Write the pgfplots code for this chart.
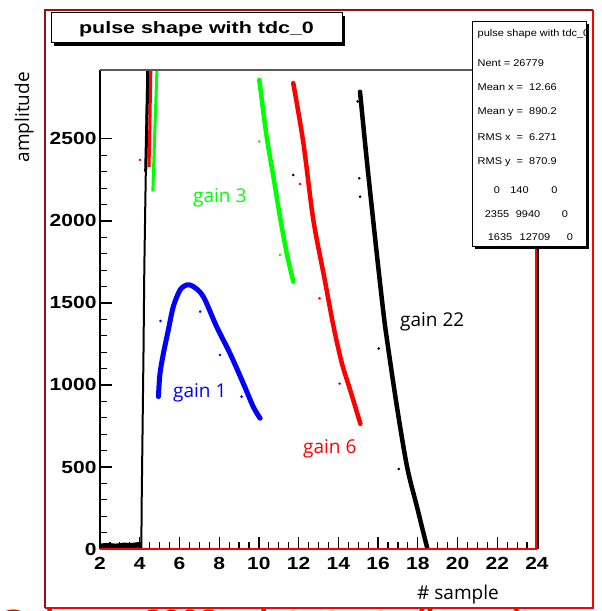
\documentclass[border=0pt]{standalone}
\usepackage{pgfplots}
\pgfplotsset{compat=1.18}
\usepackage{fontspec}
\setmainfont{Open Sans}
\newfontfamily\rootfont[FakeStretch=1.2]{Liberation Sans}
\newfontfamily\titlefont[FakeStretch=1.3]{Liberation Sans}
\newfontfamily\statfont[FakeStretch=1.12]{Liberation Sans}
\definecolor{padred}{RGB}{140,20,20}
\definecolor{rgreen}{RGB}{0,255,0}
\definecolor{rblue}{RGB}{0,0,255}
\definecolor{rred}{RGB}{255,0,0}
\begin{document}
\begin{tikzpicture}
\useasboundingbox (0,0) rectangle (602pt,611pt);
\clip (0,0) rectangle (602pt,611pt);
\fill[white] (0,0) rectangle (602pt,611pt);
\begin{axis}[
  at={(100pt,62pt)}, anchor=south west,
  scale only axis, width=437pt, height=479pt,
  xmin=2, xmax=24, ymin=0, ymax=2920,
  axis line style={draw=none},
  xtick={2,4,...,24}, ytick={0,500,...,2500},
  minor x tick num=3, minor y tick num=4,
  tick align=inside, xtick pos=left, ytick pos=left,
  major tick length=12pt, minor tick length=7pt,
  tick style={black, line width=1.2pt},
  ticklabel style={font=\rootfont\bfseries\fontsize{17.5}{20}\selectfont},
  xticklabel style={yshift=-5pt},
  /pgf/number format/assume math mode=true,
  /pgf/number format/1000 sep={},
  clip=true,
]
% gain 22 (black): baseline and rising edge
\addplot[black, line width=5.5pt] coordinates {(2,17)(2.4,20)(2.8,16)(3.2,22)(3.6,20)(3.9,25)(4.1,22)};
\addplot[black, line width=2pt] coordinates {(4.08,0)(4.1,300)(4.14,700)(4.19,1200)(4.23,1700)(4.28,2100)(4.32,2400)(4.38,2930)};
\addplot[black, line width=3pt] coordinates {(4.3,2300)(4.42,2930)};
% gain 6 (red) rising edge
\addplot[rred, line width=3pt] coordinates {(4.47,2330)(4.52,2650)(4.56,2930)};
% gain 3 (green) rising edge
\addplot[rgreen, line width=3pt] coordinates {(4.66,2180)(4.76,2550)(4.87,2930)};
% gain 1 (blue)
\addplot[rblue, line width=5pt, line cap=round, line join=round, smooth, tension=0.5] coordinates {(4.94,929)(5.02,1069)(5.19,1191)(5.44,1335)(5.69,1477)(6.03,1579)(6.37,1610)(6.70,1600)(7.2,1539)(7.87,1356)(8.55,1191)(9.22,1008)(9.72,866)(10.06,797)};
% gain 3 falling
\addplot[rgreen, line width=4.5pt, line cap=round, smooth, tension=0.5] coordinates {(10.02,2860)(10.39,2514)(10.73,2270)(11.06,2026)(11.4,1803)(11.73,1630)};
% gain 6 falling
\addplot[rred, line width=4.5pt, line cap=round, smooth, tension=0.5] coordinates {(11.73,2840)(12.24,2474)(12.74,2006)(13.3,1650)(13.76,1355)(14.18,1131)(14.6,967)(15.11,763)};
% gain 22 falling
\addplot[black, line width=4.5pt, line cap=round, smooth, tension=0.5] coordinates {(15.09,2787)(15.43,2372)(15.93,1805)(16.27,1439)(16.45,1274)(16.95,866)(17.46,500)(17.96,256)(18.46,12)(18.5,0)};
% stray points
\addplot[only marks, mark=*, mark size=1.1pt, black] coordinates {(11.73,2280)(15.05,2260)(15.09,2148)(16.03,1222)(17.04,488)(14.97,2728)};
\addplot[only marks, mark=*, mark size=1.1pt, rred] coordinates {(4.01,2372)(12.07,2225)(13.05,1528)(14.06,1008)};
\addplot[only marks, mark=*, mark size=1.1pt, rblue] coordinates {(5.05,1390)(7.04,1447)(8.04,1183)(9.13,929)};
\addplot[only marks, mark=*, mark size=1.1pt, rgreen] coordinates {(10.02,2484)(11.06,1793)};
\end{axis}
\begin{scope}[x=1pt,y=-1pt,shift={(0pt,611pt)}]
% axis frame
\draw[black, line width=1.5pt] (100,549) -- (100,70);
\draw[black!65, line width=1.5pt] (100,70) -- (538,70);
\draw[rred, line width=2pt] (536,70) -- (536,549);
\draw[black, line width=1.5pt] (538,70) -- (538,549);
\draw[rred, line width=2pt] (100,549) -- (537,549);
% pad frame
\draw[padred, line width=2pt] (45,608) -- (45,10) -- (593,10);
\draw[rred, line width=2pt] (593,10) -- (593,608) -- (45,608);
% title box
\fill[black] (54,16) rectangle (345,46);
\draw[black, line width=1pt, fill=white] (51,13) rectangle (342,43);
\node[inner sep=0] at (196.5,29) {\titlefont\bfseries\fontsize{16.5}{18}\selectfont pulse shape with tdc\_0};
% stats box
\fill[black] (474.5,24.5) rectangle (588.5,249.5);
\draw[black, line width=1pt, fill=white] (472,22) rectangle (586,247);
\begin{scope}
\clip (472.5,22.5) rectangle (585.5,246.5);
\begin{scope}[every node/.style={inner sep=0, font=\statfont\fontsize{9.8}{11}\selectfont}]
\node[anchor=west] at (477.5,34) {pulse shape with tdc\_0};
\node[anchor=west] at (477.5,63) {Nent = 26779};
\node[anchor=west] at (477.5,87) {Mean x = \ 12.66};
\node[anchor=west] at (477.5,112) {Mean y = \ 890.2};
\node[anchor=west] at (477.5,137) {RMS x \ = \ 6.271};
\node[anchor=west] at (477.5,162) {RMS y \ = \ 870.9};
\node at (497,190) {0};
\node at (519.5,190) {140};
\node at (554.5,190) {0};
\node at (497,214) {2355};
\node at (528,214) {9940};
\node at (565,214) {0};
\node at (500,237) {1635};
\node at (535,237) {12709};
\node at (570,237) {0};
\end{scope}
\end{scope}
% annotations
\begin{scope}[every node/.style={inner sep=0, anchor=base west, font=\fontsize{19}{22}\selectfont}]
\node[text=rgreen] at (193,203) {gain 3};
\node[text=rblue] at (173,398) {gain 1};
\node[text=rred] at (303,454) {gain 6};
\node[text=black] at (400,327) {gain 22};
\node[text=black] at (417,599) {\# sample};
\end{scope}
\node[inner sep=0, rotate=90, anchor=base east, font=\fontsize{19}{22}\selectfont] at (29,72) {amplitude};
% caption below, mostly cut off as in the reference
\node[inner sep=0, anchor=base west, text=rred, font=\rootfont\bfseries\fontsize{28}{32}\selectfont] at (0,629) {Gain vs. 2008 - data tests (beam)};
\end{scope}
\end{tikzpicture}
\end{document}
